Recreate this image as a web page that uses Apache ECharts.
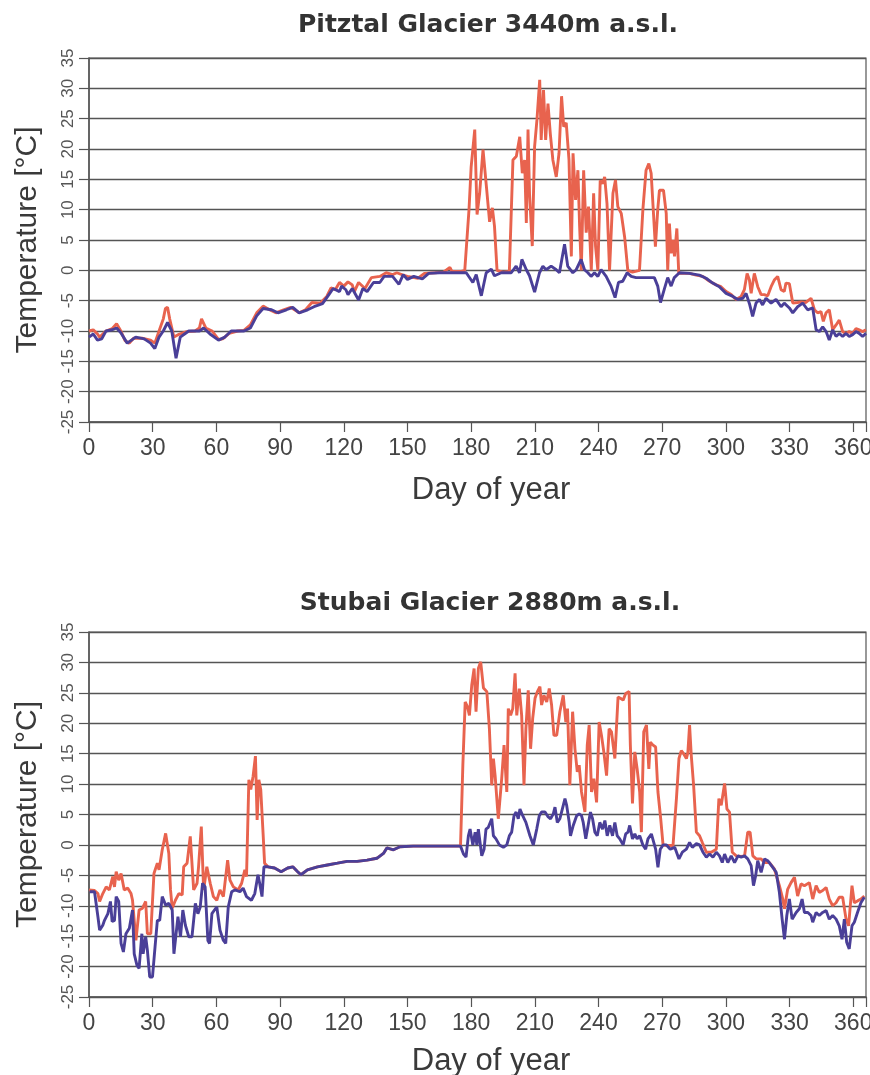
<!DOCTYPE html>
<html><head><meta charset="utf-8">
<script src="https://cdn.jsdelivr.net/npm/echarts@6/dist/echarts.min.js"></script>
<style>html,body{margin:0;padding:0;background:#fff}#c{width:870px;height:1075px}</style>
</head><body><div id="c"></div>
<script>
// ---------- text ----------
const titlePitztal = 'Pitztal Glacier 3440m a.s.l.';
const titleStubai = 'Stubai Glacier 2880m a.s.l.';
const yName = 'Temperature [°C]';
const xName = 'Day of year';

// ---------- Pitztal Glacier (top) : [day, °C] ----------
const pitztalRed = [[0,-10],[2,-9.8],[4,-10.5],[5,-11],[8,-10],[11,-9.6],[13,-8.8],[15,-10],[17,-11.6],[19,-12],[21,-11.2],[25,-11.2],[29,-11.5],[31,-12],[33,-10],[35,-8],[36,-6.3],[37,-6.1],[38,-8],[40,-11],[42,-10.6],[46,-10.1],[50,-10],[52,-9.5],[53,-8],[55,-9.5],[58,-10],[61,-11.4],[63,-11.3],[66,-10.4],[70,-10],[73,-9.9],[76,-9],[79,-7],[82,-5.9],[85,-6.5],[88,-7],[91,-6.6],[95,-6.1],[99,-7],[102,-6.5],[105,-5.3],[109,-5.4],[112,-4.3],[114,-2.9],[116,-3.2],[118,-2],[120,-2.6],[122,-1.9],[124,-2.4],[125,-3.5],[127,-2],[130,-3],[133,-1.2],[137,-1],[140,-0.4],[143,-0.7],[145,-0.4],[148,-0.8],[150,-1],[155,-1.3],[158,-0.5],[163,-0.4],[167,-0.3],[170,0.5],[171,-0.2],[175,-0.2],[177,0],[179,10],[180,17],[181.7,23.2],[182.8,9.2],[184,12.7],[185.6,19.9],[187.2,13.8],[188.7,8],[190,10.3],[191,7.3],[192.2,0],[195,-0.3],[198,-0.2],[199.7,18.2],[201.3,18.8],[202.9,22],[204.1,16],[205.2,18.2],[206,7.8],[206.8,23.2],[207.5,12.7],[208.8,4],[209.9,20.4],[211,24.8],[212.3,31.4],[213,21.5],[214.1,29.7],[215.1,21.5],[216.2,27.5],[217.3,22.5],[218.5,18.2],[220.1,15.4],[221.4,19.3],[222.6,28.7],[223.6,23.7],[224.8,24.3],[226.1,18.2],[227.2,2.3],[228,19.3],[229.2,11.6],[230.3,16.5],[231.1,7.3],[231.9,0],[233,16.5],[234.2,6.2],[235.3,10.5],[236.6,0],[237.7,12.7],[238.6,4],[239.7,0],[240.8,14.8],[242,14.3],[242.9,15.4],[244,11],[245.2,0],[246.8,12.7],[248,14.9],[249.1,10.5],[250.7,9.4],[252.3,5.5],[253.8,0],[256,-0.3],[259.3,0],[260.9,10],[262.4,16.5],[263.7,17.6],[264.8,16],[265.6,16],[266.8,3.9],[267.9,10],[268.7,13.2],[270.6,13.2],[271.9,9.4],[272.6,0],[273.4,7.7],[274.2,2.8],[275,5],[275.8,2.3],[276.9,6.9],[277.8,-0.5],[282.8,-0.5],[286,-0.8],[289.1,-1],[292.3,-1.8],[295.4,-2.4],[297.7,-2.7],[300.1,-3.5],[302.5,-4],[304.8,-4.8],[307.2,-4.3],[308.7,-3.2],[310,-0.5],[311.1,-1.6],[311.9,-3.8],[313.4,-0.5],[315,-2.7],[316.6,-4],[318.1,-4],[319.7,-4.2],[321.3,-2.7],[322.8,-1.6],[324.4,-1],[326,-3.2],[327.5,-3.5],[328.3,-2.1],[329.9,-2.2],[331.5,-5.4],[333.8,-5.3],[335.4,-5.2],[337.7,-5.3],[340.1,-4.6],[341.7,-6.5],[343.2,-7],[344.8,-6.8],[345.9,-8.4],[347.2,-7],[348.7,-6.5],[350.3,-9.8],[351.9,-9],[353.4,-8.2],[355,-10.1],[356.6,-10.4],[358.1,-10.1],[359.7,-10.4],[361.3,-9.6],[362.8,-9.8],[364.4,-10.1],[366,-9.8]];

const pitztalBlue = [[0,-11],[2,-10.5],[4,-11.5],[6,-11.3],[8,-10],[11,-9.8],[13,-9.5],[15,-10.3],[18,-12],[20,-11.5],[22,-11],[26,-11.3],[29,-12],[31,-12.9],[33,-11],[35,-10],[37,-8.6],[39,-10],[41,-14.5],[43,-11],[45,-10.5],[47,-10],[52,-10],[54,-9.5],[57,-10.5],[61,-11.5],[64,-11],[67,-10],[73,-10],[76,-9.5],[79,-7.5],[82,-6.3],[86,-6.5],[89,-7],[93,-6.5],[96,-6.1],[99,-7],[103,-6.5],[106,-6],[110,-5.5],[113,-4],[115,-3],[118,-3.5],[119,-2.6],[121,-3.2],[122,-4],[124,-3],[127,-4.9],[129,-3],[131,-3.5],[134,-2],[137,-2],[139,-1],[143,-1],[146,-2.3],[148,-0.7],[150,-1.5],[153,-1],[157,-1.4],[160,-0.5],[165,-0.4],[170,-0.4],[177.7,-0.4],[180.8,-2],[182.4,-0.7],[184.8,-4.2],[187.1,-0.4],[189.5,0.2],[191,-0.9],[194.2,-0.4],[198.9,-0.4],[201.2,0.7],[202.8,-0.4],[203.9,1.8],[206,0.1],[207.5,-0.9],[209.9,-3.6],[212.2,-0.4],[213.8,0.7],[215.3,0.1],[217.7,0.7],[220.1,0.1],[221.6,-0.4],[224,4.3],[225.5,0.7],[227.9,-0.4],[229.5,0.1],[231.8,1.8],[233.4,0.1],[235,-0.4],[236.5,-1],[238.1,-0.4],[239.7,-1],[241.2,0.1],[243.6,-1],[245.9,-2.6],[247.8,-4.5],[249.4,-2],[251.4,-1.8],[253.5,-0.4],[255.4,-1],[257.7,-1.2],[263.2,-1.2],[266.3,-1.2],[267.9,-2.6],[269.2,-5.3],[271,-3.1],[272.6,-1.2],[274.2,-2.6],[275.7,-1.2],[278.1,-0.4],[282.8,-0.5],[287.5,-0.8],[290.7,-1.3],[293.8,-2.1],[296.9,-2.7],[300.1,-3.8],[303.3,-4.3],[305.6,-4.8],[308,-4.6],[309.5,-3.8],[311.1,-5.5],[312.6,-7.6],[314.2,-5.4],[315.8,-4.8],[317.3,-5.7],[318.9,-4.6],[321.3,-5.4],[323.6,-4.8],[326,-6],[327.5,-5.4],[329.9,-6.2],[331.5,-7],[333.8,-6],[336.2,-5.4],[338.5,-6.5],[340.9,-6.2],[342.5,-9.8],[344,-10.1],[345.6,-9.3],[347.2,-10.1],[348.7,-11.5],[350.3,-9.8],[351.9,-10.9],[353.4,-10.4],[355,-10.9],[356.6,-10.4],[358.1,-10.9],[359.7,-10.6],[361.3,-10.1],[362.8,-10.4],[364.4,-10.9],[366,-10.4]];

// ---------- Stubai Glacier (bottom) : [day, °C] ----------
const stubaiRedWinter = [[0,-7.4],[2.6,-7.5],[4.2,-8],[5,-9.3],[6.5,-8],[8.1,-6.9],[9.6,-7.4],[11.2,-5.2],[12,-6.9],[12.8,-4.4],[14,-5.8],[15.1,-4.7],[16.6,-7.4],[18.2,-7.1],[19.8,-8],[20.5,-9.1],[22.1,-15.7],[23.6,-10.7],[25.2,-10.4],[26.7,-9.3],[27.5,-14.6],[29.1,-14.6],[30.6,-4.7],[32.2,-3],[33,-4.1],[34.5,-0.8],[36.1,1.9],[37.6,-1.4],[38.4,-7.4],[39.2,-10.4],[40.7,-9.1],[42.3,-8],[43.9,-8.2],[44.6,-3.6],[46.2,-3],[47.7,1.4],[49.3,-7.4],[50.9,-6.3],[51.6,-3.6],[52.9,3],[54,-7.4],[55.5,-3.6],[57.1,-6.3],[58.6,-8.5],[60.2,-9.1],[61.7,-7.4],[63.3,-8.5],[65.3,-2.5],[66.4,-5.8],[68,-6.9],[70.3,-7.4],[71.9,-6.3],[73.4,-4.1],[74.2,-5.2],[75.3,10.7],[76.2,9.1],[77.3,11.3],[78.4,14.6],[79.2,4.1],[80,10.7],[80.9,9.1],[82,1.9],[82.7,-3],[84.3,-3.6]];

const stubaiBlueWinter = [[0.3,-7.7],[2.6,-7.7],[3.4,-8],[4.2,-11.8],[5,-14],[6.5,-13.2],[7.3,-12.4],[8.9,-11.3],[10.1,-9.3],[10.9,-12.6],[12,-12.4],[12.8,-8.5],[14,-9.3],[15.1,-16.2],[16.2,-17.6],[17.4,-14.6],[19,-13.7],[20.5,-10.7],[21.3,-17.9],[22.6,-19.8],[23.6,-20.3],[24.9,-14.6],[25.5,-17.9],[26.7,-15.1],[27.5,-17.3],[28.6,-21.7],[29.9,-21.7],[31.1,-16.8],[32.2,-12.4],[33.3,-12.4],[34.5,-8.5],[36.1,-9.9],[37.6,-9.6],[39.2,-10.7],[40,-17.9],[40.7,-17.9],[41.9,-11.8],[43.1,-15.1],[44.2,-10.7],[45.4,-13.2],[47,-15.1],[48.5,-15.1],[50.1,-9.6],[51.3,-11.3],[52.4,-10.2],[53.5,-6.3],[54.7,-6.9],[56,-15.7],[56.8,-16.2],[57.9,-11.3],[59.1,-10.7],[60.2,-10.2],[61.7,-14],[63.3,-15.7],[64.4,-16.2],[65.6,-10.2],[67.2,-7.7],[68.7,-7.4],[71.1,-7.7],[72.6,-7.1],[74.2,-8.5],[76.5,-9.1],[78.1,-8],[79.6,-4.9],[80.4,-6.3],[81.5,-8.5],[82.4,-3.6],[82.7,-3.3],[84.3,-3.6]];

const stubaiSpring = [[87.4,-3.8],[90.5,-4.4],[93.6,-3.8],[96,-3.6],[98.3,-4.4],[99.8,-4.9],[102.9,-4.1],[107.6,-3.6],[112.3,-3.3],[117,-3],[121.6,-2.7],[126.3,-2.7],[131,-2.5],[135.6,-2.2],[138.7,-1.4],[140.3,-0.5],[143.4,-0.8],[146.5,-0.3],[152.7,-0.2],[175,-0.2]];

const stubaiRedSummer = [[176.1,13.1],[177.2,23.5],[178.3,22.7],[179.2,21.3],[180.3,26.3],[181.4,29],[182.3,21.9],[183.4,29],[184.5,30.1],[185.8,25.8],[187.4,25.2],[188.6,19.1],[189.7,9.8],[190.5,14.2],[191.3,11.4],[192.8,4.3],[194.4,10.9],[195.5,16.4],[196.8,8.7],[197.5,22.4],[198.6,21.3],[199.6,22.4],[200.7,28.2],[201.5,21.3],[202.7,25.7],[203.8,21.3],[204.9,9.8],[205.8,19.1],[206.9,25.4],[208,15.8],[209,20.8],[210.1,24.1],[211.2,25.2],[212.4,26],[213.2,23],[214.3,24.6],[215.6,23.5],[216.8,25.7],[217.9,23],[219,18],[220.3,18],[221.8,21.9],[223.4,24.6],[224.6,20.2],[225.4,22.4],[226.5,9.8],[227.8,21.9],[228.9,15.8],[230,12],[230.9,13.1],[232,8.7],[233.6,5.4],[234.7,16.4],[235.6,19.7],[236.7,8.7],[237.8,10.9],[239.1,7],[240.3,20.2],[241.4,18],[242.5,15.3],[243.8,11.4],[245,19.1],[246.1,18.6],[247.7,14.2],[249.2,24.3],[250.3,24.1],[251.6,23.8],[252.8,24.9],[254.4,25.2],[255,16.4],[256,6.8],[257.1,15.3],[258.2,12.5],[259.4,8.7],[260.2,2.1],[261.3,18.6],[262.6,19.7],[263.7,12.5],[264.4,16.9],[265.7,16.4],[266.9,16.1],[268,8.7],[269.3,4.3],[270.4,0],[272,-0.1],[275.1,-0.1],[276.7,7.6],[277.9,14.2],[279,15.5],[280.1,15],[281.4,14.2],[282.1,15.2],[282.9,19.7],[283.7,14.7],[284.8,9.8],[286.1,2.1],[287.6,1.5],[288.9,0.4],[290.8,-1.2],[293.1,-1.2],[295.5,-0.7],[296.7,7.6],[297.8,6.5],[299.4,10.1],[300.5,5.9],[301.7,5.4],[303,-1.2],[304.9,-1.8],[307.2,-1.9],[308.8,-1.8],[310.3,2.1],[311.4,2.1],[312.7,-1.8],[314.3,-2.3],[316.6,-2.3],[318.2,-2.9],[320.5,-2.9],[322.9,-4],[325.2,-6.7],[326.8,-8.9],[327.6,-10.5],[329.1,-7.3],[330.7,-6.2],[332.3,-5.3],[333.8,-8.4],[335.4,-6.4],[337,-6.7],[339.3,-6.2],[340.9,-8.9],[342.5,-6.7],[344,-7.8],[345.6,-7.5],[347.2,-7],[348.7,-8.9],[350.3,-10],[351.9,-9.5],[353.4,-8.6],[355,-8.6],[356.6,-12.2],[357.8,-13.3],[359.4,-6.7],[360.5,-9.5],[362,-9.2],[363.6,-8.9],[365.2,-8.4]];

const stubaiBlueSummer = [[176.4,-1.5],[177.6,-2],[178.7,1.5],[179.5,2.6],[180.8,0],[181.9,2.1],[182.7,0],[183.4,2.6],[184.2,0.4],[185,-1.8],[186.1,-0.7],[187,2.6],[188.1,2.9],[189.7,4.3],[190.5,1.5],[191.7,1],[193.3,0],[195.2,-0.4],[196.8,0],[198,1.5],[199.1,2.1],[200.2,4.8],[201.2,5.4],[202.2,4.3],[203,5.9],[204.3,4.8],[205.8,3.7],[207.7,1.5],[209.3,0],[210.9,2.6],[212.1,4.8],[213.2,5.4],[214.8,5.4],[216.3,4.6],[217.4,4.3],[218.7,5.1],[219.5,6.2],[220.6,3.7],[221.8,4.3],[222.6,5.4],[224.2,7.6],[225,6.5],[226.2,3.7],[226.8,1.5],[228.1,3.2],[229.7,4.8],[230.9,5.1],[232,4.8],[232.8,3.7],[234,1],[235.1,3.2],[236.2,5.4],[237.2,4.3],[238.3,2.1],[239.4,1.5],[240.6,3.7],[241.9,2.6],[243,4],[244.1,1.5],[245.3,3.2],[246.6,1.5],[247.7,3.7],[248.8,1.5],[250,1],[251.6,0],[252.8,1.8],[253.9,2.1],[254.7,3.2],[256,1],[257.1,1.8],[258.2,1],[259.4,1.5],[260.9,0],[262.2,-0.7],[263.3,1],[264.9,1.8],[265.7,1.5],[266.9,-0.7],[268,-3.7],[269.1,-0.7],[270.4,0],[272,0],[273.8,-0.7],[275.9,-0.4],[277.9,-2.3],[279.5,-1.2],[281.4,-0.7],[282.9,0.4],[284.2,-0.4],[286.1,0.2],[287.6,0],[289.2,-1.2],[290.8,-2],[292.3,-1.5],[293.9,-2],[295.5,-1.2],[297,-1.8],[298.3,-2.9],[299.4,-1.5],[300.9,-2.9],[302.5,-1.8],[304.1,-2.9],[305.7,-1.8],[307.2,-2],[308.8,-1.8],[310.3,-2.3],[311.9,-3.4],[313,-6.7],[314,-5.1],[315,-2.6],[316.6,-4.5],[318.2,-2.3],[319.7,-2.6],[322.1,-3.7],[323.7,-4.5],[325.2,-7.8],[326.5,-12.2],[327.6,-15.5],[328.7,-11.6],[329.9,-8.9],[331.2,-12.2],[333.1,-11.1],[334.6,-10.5],[335.9,-8.9],[337,-11.1],[338.6,-11.1],[340.1,-11.6],[340.9,-12.7],[342.5,-11.1],[344,-11.6],[345.6,-11.1],[347.2,-10.8],[348.7,-12.2],[350.3,-11.6],[351.9,-12.2],[353.4,-13.3],[354.7,-15.5],[355.8,-12.2],[356.9,-16],[358.1,-17.1],[359.4,-13.3],[360.5,-12.7],[362,-11.1],[363.6,-9.5],[365.2,-8.6]];

const stubaiRed = stubaiRedWinter.concat(stubaiSpring, stubaiRedSummer);
const stubaiBlue = stubaiBlueWinter.concat(stubaiSpring, stubaiBlueSummer);

// ---------- chart ----------
const FONT = '"Liberation Sans", Arial, Helvetica, sans-serif';
const TITLE_FONT = 'bold 25px "DejaVu Sans", "Liberation Sans", Arial, sans-serif';
const LINE = '#555555';
const RED = '#E8634E';
const BLUE = '#4A3F98';

function makeX(i, gap) {
  return {
    type: 'value', gridIndex: i, min: 0, max: 366, interval: 30,
    name: xName, nameLocation: 'middle', nameGap: gap,
    nameTextStyle: { fontSize: 31, color: '#3a3a3a', fontFamily: FONT, padding: [0, 0, 0, 27] },
    axisLine: { show: true, onZero: false, lineStyle: { color: LINE, width: 1.5 } },
    axisTick: { show: true, length: 10, lineStyle: { color: LINE, width: 1.2 } },
    axisLabel: { fontSize: 23, color: '#444', margin: 15, fontFamily: FONT,
      formatter: v => (v % 30 === 0 ? String(v) : '') },
    splitLine: { show: false }
  };
}
function makeY(i) {
  return {
    type: 'value', gridIndex: i, min: -25, max: 35, interval: 5,
    name: yName, nameLocation: 'middle', nameGap: 46,
    nameTextStyle: { fontSize: 30, color: '#3a3a3a', fontFamily: FONT },
    axisLine: { show: true, lineStyle: { color: LINE, width: 1.5 } },
    axisTick: { show: true, length: 10, lineStyle: { color: LINE, width: 1.2 } },
    axisLabel: { fontSize: 17, color: '#555', rotate: 90, margin: 12, fontFamily: FONT },
    splitLine: { show: true, lineStyle: { color: LINE, width: 1.3 } }
  };
}
function makeLine(data, color, xi, yi) {
  return { type: 'line', data: data, xAxisIndex: xi, yAxisIndex: yi,
    showSymbol: false, symbol: 'none', lineStyle: { color: color, width: 2.9 },
    itemStyle: { color: color }, animation: false };
}

const chart = echarts.init(document.getElementById('c'));
chart.setOption({
  animation: false,
  backgroundColor: '#fff',
  graphic: [
    { type: 'text', x: 488, y: 13, style: { text: titlePitztal, font: TITLE_FONT, fill: '#333', textAlign: 'center', textVerticalAlign: 'top' } },
    { type: 'text', x: 490, y: 591, style: { text: titleStubai, font: TITLE_FONT, fill: '#333', textAlign: 'center', textVerticalAlign: 'top' } }
  ],
  grid: [
    { left: 89, top: 58, width: 777, height: 364, show: true, borderColor: LINE, borderWidth: 1.2,
      backgroundColor: 'transparent', outerBoundsMode: 'none', containLabel: false },
    { left: 89, top: 632, width: 777, height: 365, show: true, borderColor: LINE, borderWidth: 1.2,
      backgroundColor: 'transparent', outerBoundsMode: 'none', containLabel: false }
  ],
  xAxis: [makeX(0, 53), makeX(1, 49)],
  yAxis: [makeY(0), makeY(1)],
  series: [
    makeLine(pitztalRed, RED, 0, 0),
    makeLine(pitztalBlue, BLUE, 0, 0),
    makeLine(stubaiRed, RED, 1, 1),
    makeLine(stubaiBlue, BLUE, 1, 1)
  ]
});
</script>
</body></html>
